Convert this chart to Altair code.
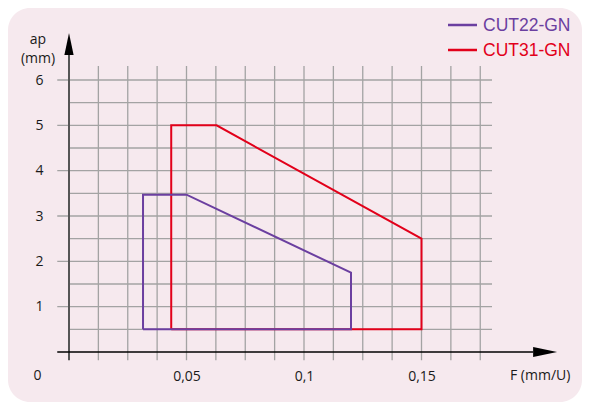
import altair as alt
import pandas as pd

# ---- data ----
series = ["CUT22-GN", "CUT31-GN"]
colors = ["#6B3FA0", "#E2001A"]

cut22_f = [0.0315, 0.0315, 0.05, 0.12, 0.12, 0.0315]
cut22_ap = [0.5, 3.47, 3.47, 1.75, 0.5, 0.5]
cut31_f = [0.0435, 0.0435, 0.0628, 0.15, 0.15, 0.0435]
cut31_ap = [0.5, 5.0, 5.0, 2.5, 0.5, 0.5]

x_tick_values = [0.05, 0.1, 0.15]
y_tick_values = [1, 2, 3, 4, 5, 6]
grid_x = [0.0125, 0.025, 0.0375, 0.05, 0.0625, 0.075, 0.0875, 0.1,
          0.1125, 0.125, 0.1375, 0.15, 0.1625, 0.175]
grid_y = [0.5, 1, 1.5, 2, 2.5, 3, 3.5, 4, 4.5, 5, 5.5, 6]

FONT = "Open Sans"
TXT = "#1a1a1a"
GRID = "#a3a3a3"
FS = 14

xs = alt.Scale(domain=[0, 0.2], nice=False, zero=False)
ys = alt.Scale(domain=[0, 6], nice=False, zero=False)
cs = alt.Scale(domain=series, range=colors)

xa = alt.Axis(values=x_tick_values, domain=False, ticks=False, grid=False,
              labelExpr="replace(format(datum.value, '~g'), '.', ',')",
              labelFont=FONT, labelFontSize=FS, labelColor=TXT,
              labelBaseline="middle", labelPadding=24, title=None, zindex=5)
ya = alt.Axis(values=y_tick_values, domain=False, ticks=False, grid=False,
              labelFont=FONT, labelFontSize=FS, labelColor=TXT,
              labelAlign="center", labelPadding=30, title=None, zindex=5)

def X(f):
    return alt.X(f, scale=xs, axis=xa)

def Y(f):
    return alt.Y(f, scale=ys, axis=ya)

def poly(name, fx, ap):
    return pd.DataFrame({"F": fx, "ap": ap, "series": [name] * len(fx),
                         "i": list(range(len(fx)))})

df22 = poly(series[0], cut22_f, cut22_ap)
df31 = poly(series[1], cut31_f, cut31_ap)

one = pd.DataFrame({"a": [0.0]})

bg = alt.Chart(one).mark_rect(color="#F6E9EE", cornerRadius=22).encode(
    x=alt.value(-61), x2=alt.value(513), y=alt.value(-72), y2=alt.value(322)
)

vgrid = alt.Chart(pd.DataFrame({"gx": grid_x, "y0": [-0.18] * len(grid_x),
                                "y1": [6.31] * len(grid_x)})).mark_rule(
    color=GRID, strokeWidth=1.3
).encode(x=X("gx:Q"), y=Y("y0:Q"), y2="y1:Q")

hgrid_df = pd.DataFrame({
    "gy": grid_y,
    "x0": [-0.005 if float(v).is_integer() else 0 for v in grid_y],
    "x1": [0.18] * len(grid_y),
})
hgrid = alt.Chart(hgrid_df).mark_rule(color=GRID, strokeWidth=1.3).encode(
    y=Y("gy:Q"), x=X("x0:Q"), x2="x1:Q"
)

def seg(x0, x1, y0, y1, color, w):
    d = pd.DataFrame({"x0": [x0], "x1": [x1], "y0": [y0], "y1": [y1]})
    return alt.Chart(d).mark_rule(color=color, strokeWidth=w).encode(
        x=X("x0:Q"), x2="x1:Q", y=Y("y0:Q"), y2="y1:Q",
    )

yaxis_line = seg(0, 0, -0.18, 6.55, "#555555", 2)
xaxis_line = seg(-0.005, 0.1975, 0, 0, "#000000", 1.5)

def pt(xv, yv):
    return pd.DataFrame({"px": [xv], "py": [yv]})

x_arrow = alt.Chart(pt(0.2026, 0)).mark_point(
    shape="M-1,-0.42L1,0L-1,0.42Z", size=576, filled=True, color="#000000", opacity=1
).encode(x=X("px:Q"), y=Y("py:Q"))
y_arrow = alt.Chart(pt(0, 6.795)).mark_point(
    shape="M-0.42,1L0,-1L0.42,1Z", size=484, filled=True, color="#000000", opacity=1
).encode(x=X("px:Q"), y=Y("py:Q"))

def label(text, xv, yv):
    return alt.Chart(pt(xv, yv)).mark_text(
        text=text, font=FONT, fontSize=FS, color=TXT, align="center", baseline="middle"
    ).encode(x=X("px:Q"), y=Y("py:Q"))

lbl0 = label("0", -0.0134, -0.54)
lblF = label("F (mm/U)", 0.2005, -0.54)
lblap = label("ap", -0.0132, 6.88)
lblmm = label("(mm)", -0.0132, 6.46)

def line(df):
    return alt.Chart(df).mark_line(strokeWidth=2).encode(
        x=X("F:Q"), y=Y("ap:Q"),
        color=alt.Color("series:N", scale=cs, legend=None),
        order="i:Q",
    )

l31 = line(df31)
l22 = line(df22)

def leg_item(name, color, ypx):
    d = pd.DataFrame({"series": [name]})
    r = alt.Chart(d).mark_rule(strokeWidth=2.5, color=color).encode(
        y=alt.value(ypx), x=alt.value(379), x2=alt.value(408),
    )
    t = alt.Chart(d).mark_text(
        font="Liberation Sans", fontSize=17.5, align="left", baseline="middle",
        dy=1, color=color
    ).encode(y=alt.value(ypx), x=alt.value(414), text="series:N")
    return [r, t]

legend_layers = leg_item(series[0], colors[0], -55) + leg_item(series[1], colors[1], -30)

chart = alt.layer(bg, vgrid, hgrid, yaxis_line, xaxis_line, x_arrow, y_arrow,
                  lbl0, lblF, lblap, lblmm, l31, l22, *legend_layers).properties(
    width=470, height=272,
    autosize=alt.AutoSizeParams(type="none"),
    padding={"left": 61, "top": 72, "right": 43, "bottom": 50},
    background="#ffffff",
).configure_view(stroke=None)

chart.save("out.html", embed_options={"renderer": "svg", "actions": False})
